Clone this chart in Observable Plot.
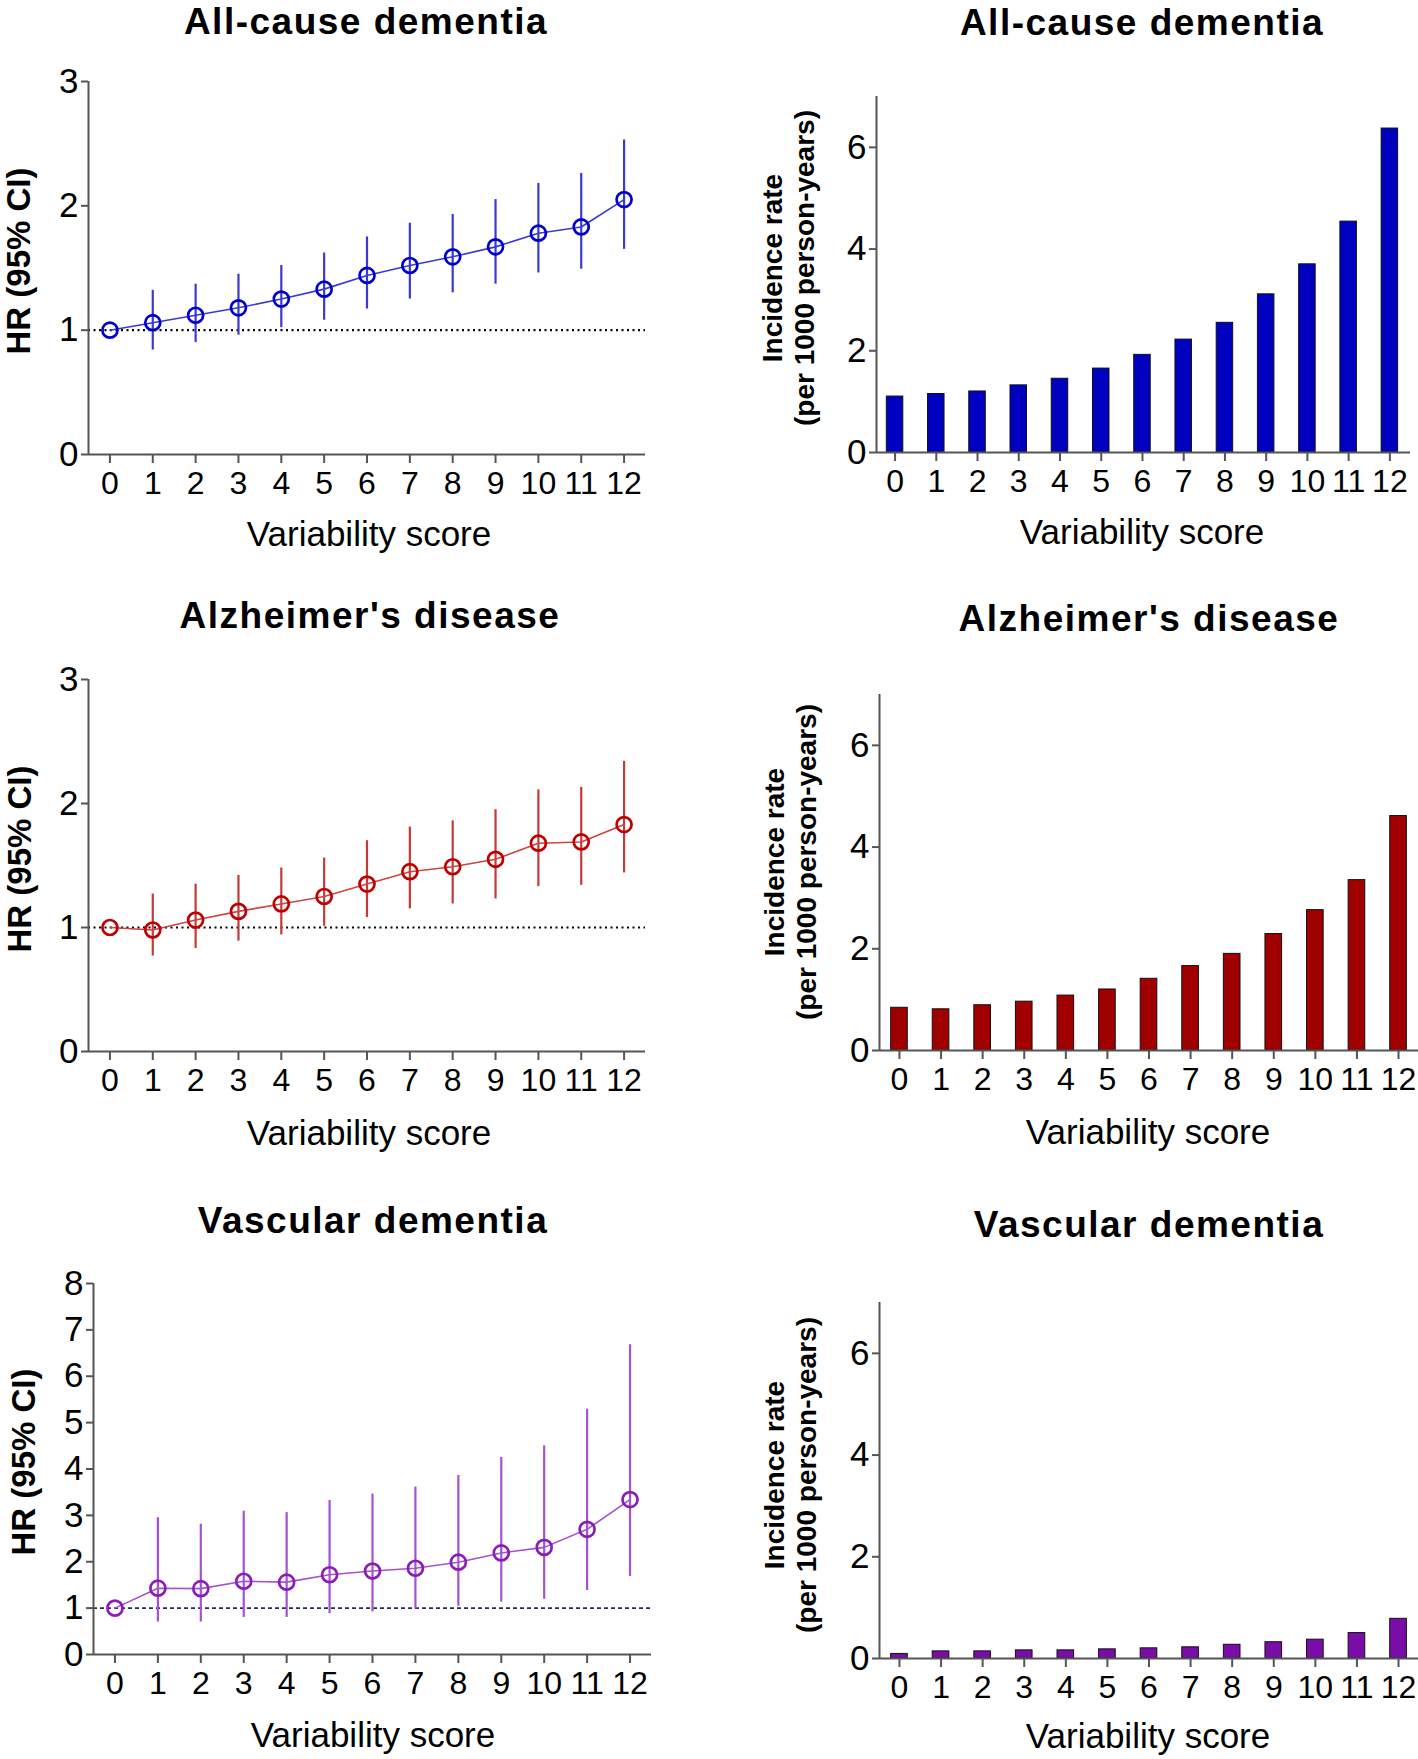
<!DOCTYPE html>
<html>
<head>
<meta charset="utf-8">
<script src="https://cdn.jsdelivr.net/npm/d3@7"></script>
<script src="https://cdn.jsdelivr.net/npm/@observablehq/plot@0.6"></script>
<style>
  body { margin: 0; background: #fff; }
  #page { position: relative; width: 1418px; height: 1759px; overflow: hidden; background: #fff;
          font-family: "Liberation Sans", Arial, Helvetica, sans-serif; color: #000; }
  #page svg { position: absolute; overflow: visible; }
  .t { position: absolute; transform: translate(-50%, -50%); white-space: nowrap; line-height: 1; }
  .title { font-weight: bold; font-size: 37px; letter-spacing: 1.5px; }
  .xl { font-size: 35px; }
  .hrl { font-weight: bold; font-size: 33px; transform: translate(-50%, -50%) rotate(-90deg); }
  .irl { font-weight: bold; font-size: 28px; line-height: 32px; text-align: center;
         transform: translate(-50%, -50%) rotate(-90deg); }
</style>
</head>
<body>
<div id="page"></div>
<script>
// ---------- data ----------
const scores = [0, 1, 2, 3, 4, 5, 6, 7, 8, 9, 10, 11, 12];

const panelTitles = ["All-cause dementia", "Alzheimer's disease", "Vascular dementia"];
const xLabel = "Variability score";
const hrLabel = "HR (95% CI)";
const irLabel1 = "Incidence rate";
const irLabel2 = "(per 1000 person-years)";

const hrAllCause   = [1.00, 1.06, 1.12, 1.18, 1.25, 1.33, 1.44, 1.52, 1.59, 1.67, 1.78, 1.83, 2.05];
const loAllCause   = [null, 0.84, 0.90, 0.96, 1.02, 1.08, 1.17, 1.25, 1.30, 1.37, 1.46, 1.49, 1.65];
const hiAllCause   = [null, 1.32, 1.37, 1.45, 1.52, 1.62, 1.75, 1.86, 1.93, 2.05, 2.18, 2.26, 2.53];

const hrAlzheimer  = [1.00, 0.98, 1.06, 1.13, 1.19, 1.25, 1.35, 1.45, 1.49, 1.55, 1.68, 1.69, 1.83];
const loAlzheimer  = [null, 0.77, 0.83, 0.89, 0.94, 1.01, 1.08, 1.15, 1.19, 1.23, 1.33, 1.34, 1.44];
const hiAlzheimer  = [null, 1.27, 1.35, 1.42, 1.48, 1.56, 1.70, 1.81, 1.86, 1.95, 2.11, 2.13, 2.34];

const hrVascular   = [1.00, 1.43, 1.42, 1.58, 1.56, 1.72, 1.80, 1.86, 1.99, 2.19, 2.31, 2.70, 3.34];
const loVascular   = [null, 0.70, 0.70, 0.80, 0.80, 0.88, 0.92, 0.98, 1.04, 1.13, 1.19, 1.38, 1.68];
const hiVascular   = [null, 2.95, 2.81, 3.09, 3.06, 3.32, 3.46, 3.61, 3.86, 4.25, 4.50, 5.29, 6.68];

const irAllCause   = [1.10, 1.15, 1.20, 1.32, 1.45, 1.65, 1.92, 2.22, 2.55, 3.11, 3.70, 4.54, 6.37];
const irAlzheimer  = [0.84, 0.81, 0.89, 0.96, 1.08, 1.20, 1.41, 1.66, 1.90, 2.29, 2.76, 3.35, 4.61];
const irVascular   = [0.09, 0.14, 0.14, 0.16, 0.16, 0.18, 0.20, 0.22, 0.27, 0.32, 0.37, 0.50, 0.78];

const hrTicksSmall = [0, 1, 2, 3];
const hrTicksLarge = [0, 1, 2, 3, 4, 5, 6, 7, 8];
const irTicks = [0, 2, 4, 6];

// ---------- helpers ----------
const page = document.getElementById("page");
const FONT = '"Liberation Sans", Arial, Helvetica, sans-serif';

function addText(cls, x, y, html) {
  const d = document.createElement("div");
  d.className = "t " + cls;
  d.style.left = x + "px";
  d.style.top = y + "px";
  d.innerHTML = html;
  page.appendChild(d);
}

function fixAxes(svg, xSize, ySize) {
  svg.querySelectorAll('[aria-label^="x-axis"]').forEach(g => g.setAttribute("font-size", xSize));
  svg.querySelectorAll('[aria-label^="y-axis"]').forEach(g => g.setAttribute("font-size", ySize));
  svg.querySelectorAll('[aria-label^="x-axis"] text, [aria-label^="y-axis"] text').forEach(t => t.setAttribute("fill", "#000"));
  svg.querySelectorAll('[aria-label^="x-axis"] path, [aria-label^="x-axis"] line, [aria-label^="y-axis"] path, [aria-label^="y-axis"] line')
    .forEach(p => { p.setAttribute("stroke-width", "2"); p.setAttribute("stroke", "#555"); });
}

function place(svg, left, top) {
  svg.style.left = left + "px";
  svg.style.top = top + "px";
  page.appendChild(svg);
}

function hrPanel(c) {
  const data = scores.map((s, i) => ({s, hr: c.hr[i], lo: c.lo[i], hi: c.hi[i]}));
  const svg = Plot.plot({
    width: c.W, height: c.H,
    marginLeft: c.ml, marginRight: c.mr, marginTop: c.mt, marginBottom: c.mb,
    style: {background: "transparent", color: "#555", fontFamily: FONT, overflow: "visible"},
    x: {domain: c.xdom, ticks: scores, tickFormat: d => String(d), tickSize: 9, tickPadding: 8, label: null},
    y: {domain: [0, c.ymax], ticks: c.yticks, tickFormat: d => String(d), tickSize: 7, tickPadding: 3, label: null},
    marks: [
      Plot.ruleY([1], {stroke: c.refColor, strokeWidth: c.refWidth, strokeDasharray: c.refDash}),
      Plot.ruleX(data.filter(d => d.lo != null), {x: "s", y1: "lo", y2: "hi", stroke: c.barColor, strokeWidth: 2.2}),
      Plot.line(data, {x: "s", y: "hr", stroke: c.lineColor, strokeWidth: 1.6}),
      Plot.dot(data, {x: "s", y: "hr", r: 7.5, stroke: c.dotColor, strokeWidth: 2.7, fill: "none"}),
      Plot.ruleX([c.xdom[0]], {y1: 0, y2: c.ymax, stroke: "#555", strokeWidth: 2}),
      Plot.ruleY([0], {stroke: "#555", strokeWidth: 2})
    ]
  });
  fixAxes(svg, 32, 35);
  place(svg, c.L, c.T);
}

function irPanel(c) {
  const data = scores.map((s, i) => ({s, v: c.ir[i]}));
  const svg = Plot.plot({
    width: c.W, height: c.H,
    marginLeft: c.ml, marginRight: c.mr, marginTop: c.mt, marginBottom: c.mb,
    style: {background: "transparent", color: "#555", fontFamily: FONT, overflow: "visible"},
    x: {domain: c.xdom, ticks: scores, tickFormat: d => String(d), tickSize: 9, tickPadding: 8, label: null},
    y: {domain: [0, 7], ticks: irTicks, tickFormat: d => String(d), tickSize: 7, tickPadding: 3, label: null},
    marks: [
      Plot.rect(data, {x1: d => d.s - 0.2, x2: d => d.s + 0.2, y1: 0, y2: "v", fill: c.fill, stroke: "#111", strokeWidth: 1}),
      Plot.ruleX([c.xdom[0]], {y1: 0, y2: 7, stroke: "#555", strokeWidth: 2}),
      Plot.ruleY([0], {stroke: "#555", strokeWidth: 2})
    ]
  });
  fixAxes(svg, 32, 35);
  place(svg, c.L, c.T);
}

// ---------- left column: hazard ratios ----------
hrPanel({L: 0, T: 40, W: 700, H: 540, ml: 88, mr: 55, mt: 41, mb: 126, xdom: [-0.5, 12.5],
  ymax: 3, yticks: hrTicksSmall, hr: hrAllCause, lo: loAllCause, hi: hiAllCause,
  dotColor: "#0000cc", lineColor: "#3a3ad0", barColor: "#3a3ad0",
  refColor: "#000", refWidth: 2.2, refDash: "2,3.5"});

hrPanel({L: 0, T: 640, W: 700, H: 540, ml: 88, mr: 55, mt: 39, mb: 129, xdom: [-0.5, 12.5],
  ymax: 3, yticks: hrTicksSmall, hr: hrAlzheimer, lo: loAlzheimer, hi: hiAlzheimer,
  dotColor: "#c00000", lineColor: "#cc4444", barColor: "#c43a3a",
  refColor: "#000", refWidth: 2.2, refDash: "2,3.5"});

hrPanel({L: 0, T: 1250, W: 700, H: 509, ml: 93, mr: 49, mt: 33, mb: 105, xdom: [-0.5, 12.5],
  ymax: 8, yticks: hrTicksLarge, hr: hrVascular, lo: loVascular, hi: hiVascular,
  dotColor: "#8a1db5", lineColor: "#a552d0", barColor: "#a552d0",
  refColor: "#2a2a55", refWidth: 1.6, refDash: "4,3"});

// ---------- right column: incidence rates ----------
irPanel({L: 700, T: 40, W: 718, H: 540, ml: 176, mr: 8, mt: 56, mb: 128, xdom: [-0.45, 12.5],
  ir: irAllCause, fill: "#0000c0"});
irPanel({L: 700, T: 640, W: 718, H: 540, ml: 179, mr: 0, mt: 54, mb: 130, xdom: [-0.48, 12.48],
  ir: irAlzheimer, fill: "#a00000"});
irPanel({L: 700, T: 1250, W: 718, H: 509, ml: 179, mr: 0, mt: 52, mb: 101, xdom: [-0.48, 12.48],
  ir: irVascular, fill: "#7a0ca8"});

// ---------- titles and axis labels ----------
addText("title", 366, 21, panelTitles[0]);
addText("title", 1142, 22, panelTitles[0]);
addText("title", 370, 615, panelTitles[1]);
addText("title", 1149, 618, panelTitles[1]);
addText("title", 373, 1220, panelTitles[2]);
addText("title", 1149, 1224, panelTitles[2]);

addText("xl", 369, 533, xLabel);
addText("xl", 1142, 531, xLabel);
addText("xl", 369, 1132, xLabel);
addText("xl", 1148, 1131, xLabel);
addText("xl", 373, 1734, xLabel);
addText("xl", 1148, 1735, xLabel);

addText("hrl", 18, 261, hrLabel);
addText("hrl", 19, 859, hrLabel);
addText("hrl", 23, 1462, hrLabel);

addText("irl", 789, 268, irLabel1 + "<br>" + irLabel2);
addText("irl", 791, 862, irLabel1 + "<br>" + irLabel2);
addText("irl", 791, 1475, irLabel1 + "<br>" + irLabel2);
</script>
</body>
</html>
